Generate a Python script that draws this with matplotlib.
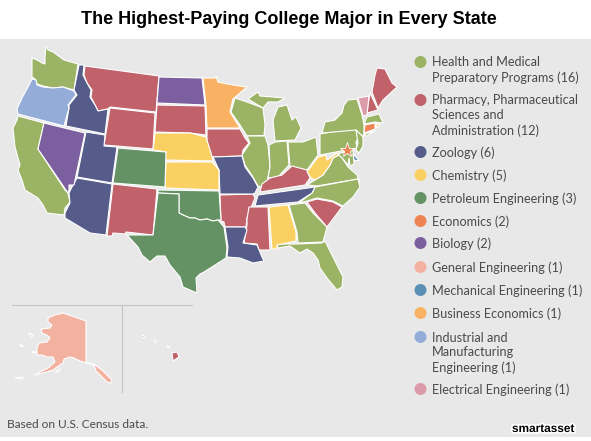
"""The highest-paying college major in every state, drawn on pixel-read outlines."""

import matplotlib

matplotlib.use("Agg")
import matplotlib.patheffects as pe
import matplotlib.pyplot as plt
from matplotlib.patches import Circle, Polygon

COLOR_BG = "#E8E8E8"
COLOR_TEXT = "#4A4A4A"
COLOR_RULE = "#C4C4C4"

# Legend
MAJOR_LABELS = [
    "Health and Medical\nPreparatory Programs (16)",
    "Pharmacy, Pharmaceutical\nSciences and\nAdministration (12)",
    "Zoology (6)",
    "Chemistry (5)",
    "Petroleum Engineering (3)",
    "Economics (2)",
    "Biology (2)",
    "General Engineering (1)",
    "Mechanical Engineering (1)",
    "Business Economics (1)",
    "Industrial and\nManufacturing\nEngineering (1)",
    "Electrical Engineering (1)",
]
MAJOR_COLORS = [
    "#9BB365", "#C1616A", "#555C8A", "#F9D061", "#649264", "#EE8354",
    "#7C5F9E", "#F3B2A0", "#5B90B5", "#F9B264", "#93ACD8", "#DC9BA8",
]
LEGEND_Y = [62, 100, 152, 175, 198, 221, 243, 267, 290, 313, 337, 389]

# States per major, same order as the legend
MAJOR_STATES = [
    ["WA", "CA", "WI", "MI_U", "MI_L", "IL", "IN", "OH", "PA", "NY", "LI", "NJ", "MD", "VA", "NC", "GA", "FL", "MA"],
    ["MT", "WY", "SD", "IA", "NM", "AR", "MS", "KY", "SC", "ME", "NH", "HI_1", "HI_2", "HI_3", "HI_4"],
    ["ID", "UT", "AZ", "MO", "LA", "TN"],
    ["NE", "KS", "AL", "WV", "RI"],
    ["CO", "OK", "TX"],
    ["CT"],
    ["ND", "NV"],
    ["AK", "AK_2", "AK_3", "AK_4", "AK_5", "AK_6"],
    ["DE"],
    ["MN"],
    ["OR"],
    ["VT"],
]
DC_POINT = (347, 150)

# Outlines, in image pixels
OUTLINES = {
    "WA": [(46, 46), (48, 50), (53, 52), (64, 60), (78, 64), (74, 90), (63, 87), (53, 88), (43, 86), (37, 84), (35, 79), (32, 77), (32, 58), (37, 60), (42, 63), (45, 64), (45, 57)],
    "OR": [(32, 79), (36, 80), (37, 85), (43, 87), (53, 88), (63, 87), (74, 91), (76, 95), (68, 105), (69, 108), (64, 126), (18, 114), (17, 109), (22, 98), (28, 87)],
    "CA": [(18, 116), (44, 123), (38, 149), (65, 190), (68, 193), (70, 202), (65, 208), (64, 215), (47, 213), (43, 205), (38, 198), (25, 190), (22, 180), (18, 170), (20, 165), (15, 147), (13, 128), (17, 120)],
    "NV": [(44, 123), (85, 133), (74, 185), (69, 185), (69, 190), (68, 193), (38, 149)],
    "ID": [(79, 65), (84, 65), (83, 75), (87, 83), (91, 90), (90, 97), (95, 105), (98, 111), (108, 109), (105, 134), (66, 126), (69, 108), (69, 105), (77, 95), (74, 90)],
    "MT": [(85, 66), (159, 76), (156, 112), (110, 107), (108, 109), (98, 111), (95, 105), (91, 97), (92, 90), (87, 83), (84, 75)],
    "WY": [(110, 108), (155, 113), (153, 149), (104, 145)],
    "UT": [(86, 132), (105, 135), (104, 146), (117, 147), (112, 183), (77, 177)],
    "CO": [(118, 148), (166, 152), (165, 187), (113, 183)],
    "AZ": [(77, 178), (112, 184), (106, 235), (90, 233), (65, 218), (65, 213), (70, 203), (69, 193), (73, 185)],
    "NM": [(113, 184), (157, 189), (153, 235), (126, 232), (125, 234), (113, 233), (112, 236), (107, 236)],
    "TX": [(158, 193), (179, 194), (179, 213), (183, 215), (190, 218), (195, 218), (200, 220), (207, 219), (213, 221), (218, 220), (224, 227), (227, 248), (226, 258), (215, 265), (204, 272), (200, 274), (196, 278), (197, 293), (183, 287), (180, 277), (170, 265), (165, 256), (157, 256), (150, 262), (142, 255), (138, 247), (127, 235), (153, 235)],
    "OK": [(158, 190), (219, 191), (221, 220), (218, 220), (213, 221), (207, 219), (200, 220), (195, 218), (190, 218), (183, 215), (179, 213), (179, 194), (158, 193)],
    "KS": [(166, 162), (212, 162), (219, 170), (219, 190), (165, 188)],
    "NE": [(155, 133), (190, 133), (206, 137), (211, 153), (213, 161), (165, 160), (166, 152), (153, 150)],
    "SD": [(157, 105), (205, 106), (206, 135), (190, 133), (155, 132)],
    "ND": [(159, 77), (202, 78), (205, 105), (157, 103)],
    "MN": [(203, 78), (215, 78), (216, 76), (218, 82), (233, 85), (247, 87), (233, 99), (230, 112), (240, 128), (207, 128), (206, 105)],
    "IA": [(207, 129), (240, 129), (245, 138), (249, 143), (243, 150), (242, 156), (212, 157), (207, 142)],
    "MO": [(213, 157), (242, 156), (245, 167), (253, 178), (258, 187), (255, 193), (253, 194), (220, 194), (219, 170)],
    "AR": [(220, 195), (253, 194), (255, 198), (250, 210), (247, 218), (246, 227), (225, 227), (224, 222), (221, 221)],
    "LA": [(225, 227), (245, 227), (247, 230), (243, 243), (257, 245), (262, 257), (264, 261), (253, 263), (240, 258), (227, 257), (228, 247)],
    "MS": [(249, 207), (268, 207), (270, 250), (259, 250), (257, 244), (244, 243), (247, 225), (247, 219)],
    "AL": [(269, 207), (288, 205), (296, 232), (296, 241), (277, 245), (277, 249), (272, 249)],
    "GA": [(289, 205), (305, 203), (313, 213), (327, 227), (323, 242), (298, 243), (297, 232)],
    "FL": [(277, 244), (297, 244), (322, 243), (325, 241), (333, 257), (343, 277), (342, 287), (337, 290), (327, 278), (320, 268), (318, 260), (313, 253), (307, 249), (300, 253), (290, 246), (278, 248)],
    "SC": [(307, 202), (317, 199), (333, 202), (342, 207), (327, 227), (315, 213)],
    "NC": [(358, 179), (360, 187), (353, 197), (343, 206), (333, 201), (317, 198), (307, 201), (299, 203), (308, 196), (312, 193), (315, 187)],
    "TN": [(258, 195), (315, 187), (312, 193), (298, 202), (255, 206)],
    "KY": [(260, 192), (262, 184), (270, 178), (282, 175), (292, 166), (307, 170), (310, 178), (305, 185)],
    "VA": [(307, 185), (315, 180), (323, 175), (330, 165), (333, 158), (339, 155), (342, 158), (348, 167), (357, 175), (360, 183), (358, 179), (317, 186)],
    "WV": [(307, 172), (318, 157), (326, 155), (327, 160), (337, 153), (339, 155), (333, 158), (330, 165), (323, 175), (315, 180), (311, 178)],
    "OH": [(288, 142), (303, 142), (316, 137), (318, 155), (307, 170), (290, 167)],
    "IN": [(269, 145), (275, 142), (287, 141), (289, 165), (278, 177), (268, 178), (270, 167)],
    "IL": [(247, 136), (265, 136), (268, 145), (270, 167), (267, 182), (262, 187), (258, 186), (253, 177), (245, 165), (242, 155), (250, 143)],
    "WI": [(235, 98), (247, 102), (263, 108), (265, 125), (264, 135.5), (247, 136), (240, 125), (231, 112)],
    "MI_U": [(248, 99), (258, 92), (260, 96), (285, 98), (278, 102), (268, 102), (263, 108)],
    "MI_L": [(275, 141), (273, 120), (278, 107), (287, 105), (292, 120), (296, 117), (301, 128), (295, 140)],
    "PA": [(320, 134), (355, 128), (360, 135), (356, 142), (357, 148), (320, 155)],
    "NY": [(322, 133), (325, 122), (335, 120), (342, 113), (344, 105), (348, 100), (357, 99), (362, 115), (364, 125), (364, 133), (363, 137), (356, 130)],
    "LI": [(363, 135), (375, 131), (367, 136)],
    "NJ": [(356, 130), (363, 137), (363, 146), (359, 153), (356, 150), (358, 143)],
    "MD": [(337, 154), (353, 150), (354, 164), (350, 166), (349, 158), (348, 165), (342, 158)],
    "DE": [(353, 154), (357, 158), (359, 161), (354, 160)],
    "VT": [(358, 98), (369, 96), (367, 115), (363, 116)],
    "NH": [(370, 93), (378, 110), (367, 113), (368, 105)],
    "ME": [(375, 75), (377, 68), (385, 69), (392, 83), (397, 87), (383, 100), (378, 108), (372, 92)],
    "MA": [(367, 117), (379, 114), (383, 123), (375, 122), (364, 124)],
    "CT": [(365, 125), (375, 123), (375, 129), (364, 133)],
    "RI": [(376, 123), (380, 125), (377, 128)],
    "AK": [(48, 318), (55, 315), (63, 313), (72, 316), (86, 321), (86, 362), (95, 365), (102, 370), (108, 376), (112, 380), (111, 383), (107, 382), (102, 377), (96, 371), (94, 365), (87, 363), (80, 361), (74, 358), (70, 357), (64, 359), (63, 363), (57, 367), (53, 370), (43, 373), (35, 375), (42, 371), (48, 368), (55, 362), (53, 357), (47, 357), (42, 355), (37, 355), (37, 348), (39, 343), (47, 342), (50, 338), (48, 336), (42, 333), (41, 329), (50, 328), (52, 325), (48, 322)],
    "AK_2": [(29, 333), (33, 335), (32, 337)],
    "AK_3": [(20, 344), (23, 346), (21, 347)],
    "AK_4": [(55, 372), (60, 369), (59, 372)],
    "AK_5": [(15, 378), (23, 377), (23, 379)],
    "AK_6": [(32, 352), (36, 352), (33, 353)],
    "HI_1": [(172, 353), (177, 352), (179, 357), (173, 361)],
    "HI_2": [(142, 335), (145, 336), (143, 338)],
    "HI_3": [(154, 340), (157, 341), (155, 343)],
    "HI_4": [(167, 346), (170, 347), (168, 348)],
}

fig = plt.figure(figsize=(5.91, 4.41), dpi=100, facecolor="white")
ax = fig.add_axes([0, 0, 1, 1])
ax.set_xlim(0, 591)
ax.set_ylim(441, 0)
ax.axis("off")

# Grey page between the white title strip and the thin bottom strip
ax.add_patch(Polygon([(0, 39), (591, 39), (591, 437), (0, 437)], facecolor=COLOR_BG, edgecolor="none"))

ax.text(289, 20, "The Highest-Paying College Major in Every State", fontsize=13, fontweight="bold",
        family="Liberation Sans", color="black", ha="center", va="center")

for states, color in zip(MAJOR_STATES, MAJOR_COLORS):
    for state in states:
        ax.add_patch(Polygon(OUTLINES[state], closed=True, facecolor=color, edgecolor="white", linewidth=0.8, joinstyle="round"))

# DC gets a star, it would not show otherwise
ax.plot(*DC_POINT, marker="*", markersize=11, color=MAJOR_COLORS[5], markeredgecolor="white", markeredgewidth=0.6)

# Inset rules around Alaska and Hawaii
ax.plot([12, 192], [305, 305], color=COLOR_RULE, linewidth=0.8)
ax.plot([121.5, 121.5], [305, 392], color=COLOR_RULE, linewidth=0.8)

for label, color, y in zip(MAJOR_LABELS, MAJOR_COLORS, LEGEND_Y):
    ax.add_patch(Circle((420.5, y), 6, facecolor=color, edgecolor="none"))
    ax.text(432, y - 5.5, label, fontsize=9.1, family="Lato", color=COLOR_TEXT, ha="left", va="top", linespacing=1.27)

ax.text(7, 425, "Based on U.S. Census data.", fontsize=8.6, family="Lato", color=COLOR_TEXT, ha="left", va="center")
ax.text(543, 429, "smartasset", fontsize=8.5, fontweight="bold", family="Liberation Sans", color="black",
        ha="center", va="center", path_effects=[pe.withStroke(linewidth=2.5, foreground="white")])

fig.savefig("out.png", dpi=100, facecolor="white")
